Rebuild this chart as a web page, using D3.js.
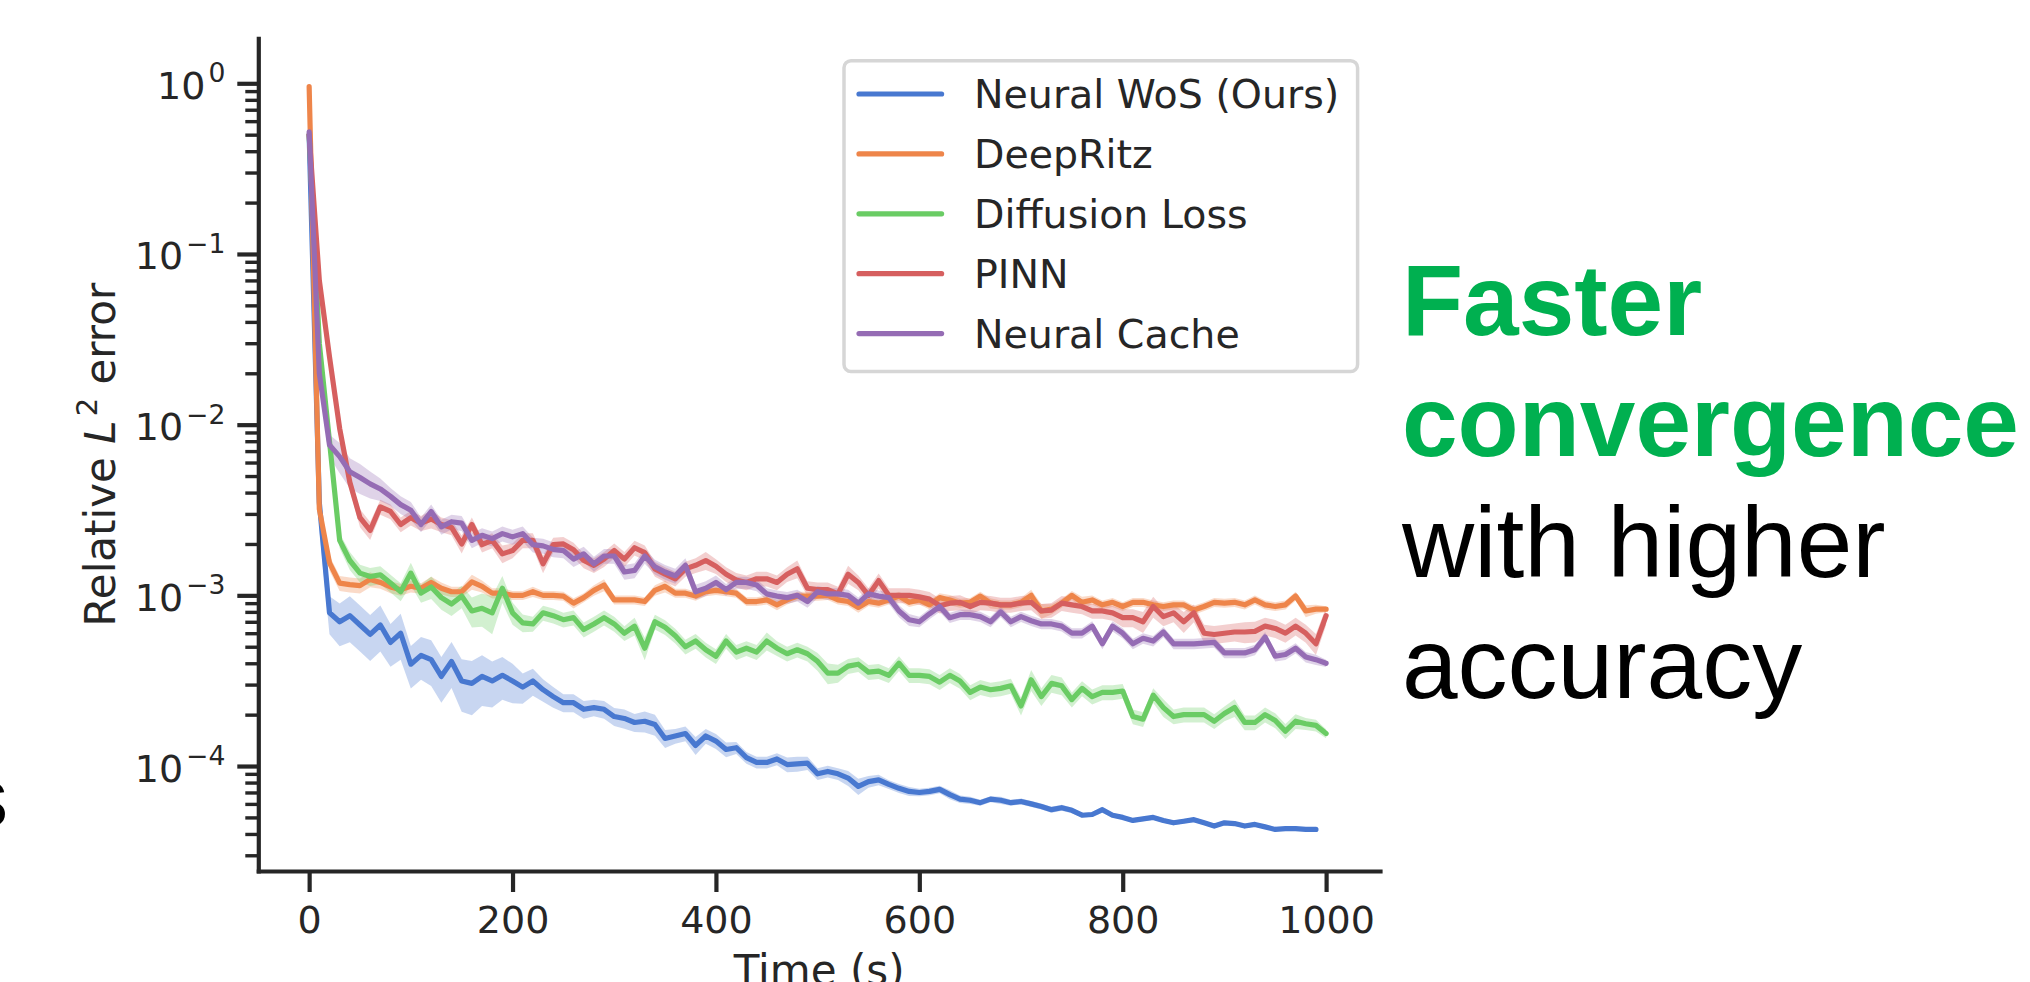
<!DOCTYPE html>
<html>
<head>
<meta charset="utf-8">
<script src="https://cdn.jsdelivr.net/npm/d3@7"></script>
<style>
  html, body { margin: 0; padding: 0; background: #fff; }
  svg { display: block; }
</style>
</head>
<body>
<div id="chart"></div>
<script>
//*************************1. Data

// sampling step of every run (seconds)
const timeStep = 10

const methods = ["Neural WoS (Ours)", "DeepRitz", "Diffusion Loss", "PINN", "Neural Cache"]
const methodColors = ["#4878d0", "#ee854a", "#6acc64", "#d65f5f", "#956cb4"]

// mean relative L2 error, one value every 10 s (Neural WoS stops at 990 s)
const neuralWosError = [
  0.5, 3.5e-3, 7.9e-4, 7.0e-4, 7.6e-4, 6.7e-4, 5.9e-4, 6.7e-4, 5.3e-4, 6.0e-4,
  3.95e-4, 4.45e-4, 4.2e-4, 3.35e-4, 4.1e-4, 3.15e-4, 3.05e-4, 3.35e-4, 3.15e-4, 3.4e-4,
  3.15e-4, 2.9e-4, 3.15e-4, 2.8e-4, 2.55e-4, 2.35e-4, 2.35e-4, 2.15e-4, 2.2e-4, 2.15e-4,
  1.95e-4, 1.9e-4, 1.8e-4, 1.83e-4, 1.75e-4, 1.45e-4, 1.5e-4, 1.55e-4, 1.32e-4, 1.5e-4,
  1.4e-4, 1.25e-4, 1.28e-4, 1.12e-4, 1.05e-4, 1.05e-4, 1.1e-4, 1.02e-4, 1.03e-4, 1.04e-4,
  9.0e-5, 9.3e-5, 9.0e-5, 8.5e-5, 7.6e-5, 8.1e-5, 8.3e-5, 7.8e-5, 7.4e-5, 7.1e-5,
  7.0e-5, 7.1e-5, 7.3e-5, 6.8e-5, 6.4e-5, 6.3e-5, 6.1e-5, 6.4e-5, 6.3e-5, 6.1e-5,
  6.2e-5, 6.0e-5, 5.8e-5, 5.55e-5, 5.7e-5, 5.5e-5, 5.15e-5, 5.2e-5, 5.55e-5, 5.15e-5,
  5.0e-5, 4.8e-5, 4.9e-5, 5.0e-5, 4.8e-5, 4.65e-5, 4.75e-5, 4.85e-5, 4.65e-5, 4.45e-5,
  4.65e-5, 4.6e-5, 4.45e-5, 4.55e-5, 4.4e-5, 4.25e-5, 4.3e-5, 4.3e-5, 4.25e-5, 4.25e-5
]
const deepRitzError = [
  0.955, 3.2e-3, 1.55e-3, 1.18e-3, 1.155e-3, 1.14e-3, 1.24e-3, 1.19e-3, 1.12e-3, 1.08e-3,
  1.13e-3, 1.1e-3, 1.19e-3, 1.1e-3, 1.05e-3, 1.05e-3, 1.2e-3, 1.13e-3, 1.03e-3, 1.03e-3,
  1.0e-3, 1.0e-3, 1.05e-3, 1.0e-3, 1.0e-3, 9.9e-4, 9.0e-4, 9.7e-4, 1.07e-3, 1.15e-3,
  9.4e-4, 9.4e-4, 9.4e-4, 9.2e-4, 1.07e-3, 1.13e-3, 1.03e-3, 1.03e-3, 9.9e-4, 1.05e-3,
  1.07e-3, 1.05e-3, 1.03e-3, 9.2e-4, 9.2e-4, 9.4e-4, 8.8e-4, 9.4e-4, 9.9e-4, 9.9e-4,
  9.9e-4, 1.0e-3, 9.4e-4, 9.2e-4, 8.5e-4, 9.2e-4, 9.0e-4, 9.4e-4, 9.9e-4, 9.1e-4,
  9.4e-4, 8.8e-4, 9.7e-4, 9.4e-4, 9.0e-4, 9.1e-4, 9.9e-4, 9.0e-4, 8.8e-4, 8.8e-4,
  9.1e-4, 1.0e-3, 8.1e-4, 8.3e-4, 9.0e-4, 1.0e-3, 9.1e-4, 9.4e-4, 8.8e-4, 9.1e-4,
  8.6e-4, 9.1e-4, 9.1e-4, 8.8e-4, 8.6e-4, 8.8e-4, 8.8e-4, 8.2e-4, 8.6e-4, 9.1e-4,
  9.0e-4, 9.1e-4, 8.8e-4, 9.4e-4, 8.8e-4, 8.6e-4, 8.8e-4, 9.9e-4, 8.1e-4, 8.3e-4,
  8.3e-4
]
const diffusionLossError = [
  0.5, 3.0e-2, 8.0e-3, 2.1e-3, 1.6e-3, 1.35e-3, 1.29e-3, 1.32e-3, 1.18e-3, 1.05e-3,
  1.35e-3, 1.03e-3, 1.12e-3, 9.7e-4, 8.9e-4, 9.9e-4, 8.1e-4, 8.4e-4, 7.9e-4, 1.1e-3,
  7.9e-4, 6.9e-4, 6.8e-4, 7.9e-4, 7.6e-4, 7.2e-4, 7.4e-4, 6.3e-4, 6.8e-4, 7.4e-4,
  6.8e-4, 6.0e-4, 6.6e-4, 4.9e-4, 7.0e-4, 6.5e-4, 5.8e-4, 5.0e-4, 5.4e-4, 4.8e-4,
  4.4e-4, 5.4e-4, 4.65e-4, 4.9e-4, 4.65e-4, 5.4e-4, 4.9e-4, 4.55e-4, 4.8e-4, 4.55e-4,
  4.1e-4, 3.5e-4, 3.5e-4, 3.85e-4, 3.95e-4, 3.55e-4, 3.6e-4, 3.4e-4, 4.0e-4, 3.4e-4,
  3.4e-4, 3.35e-4, 3.1e-4, 3.4e-4, 3.15e-4, 2.7e-4, 2.9e-4, 2.8e-4, 2.85e-4, 2.95e-4,
  2.25e-4, 3.2e-4, 2.55e-4, 3.05e-4, 2.95e-4, 2.45e-4, 2.85e-4, 2.55e-4, 2.7e-4, 2.7e-4,
  2.75e-4, 1.95e-4, 1.88e-4, 2.6e-4, 2.2e-4, 1.95e-4, 2.0e-4, 2.0e-4, 2.0e-4, 1.83e-4,
  2.03e-4, 2.2e-4, 1.8e-4, 1.8e-4, 2.0e-4, 1.85e-4, 1.6e-4, 1.83e-4, 1.77e-4, 1.73e-4,
  1.55e-4
]
const pinnError = [
  0.5, 7.0e-2, 2.5e-2, 9.5e-3, 4.6e-3, 2.85e-3, 2.4e-3, 3.3e-3, 3.1e-3, 2.6e-3,
  2.85e-3, 2.65e-3, 2.8e-3, 2.6e-3, 2.5e-3, 2.0e-3, 2.6e-3, 1.98e-3, 2.1e-3, 1.75e-3,
  1.83e-3, 2.1e-3, 2.1e-3, 1.53e-3, 1.98e-3, 2.0e-3, 1.85e-3, 1.6e-3, 1.5e-3, 1.63e-3,
  1.83e-3, 1.63e-3, 1.9e-3, 1.78e-3, 1.43e-3, 1.33e-3, 1.25e-3, 1.43e-3, 1.5e-3, 1.6e-3,
  1.48e-3, 1.33e-3, 1.23e-3, 1.19e-3, 1.25e-3, 1.25e-3, 1.19e-3, 1.33e-3, 1.43e-3, 1.1e-3,
  1.08e-3, 1.08e-3, 1.02e-3, 1.33e-3, 1.19e-3, 1.0e-3, 1.22e-3, 1.0e-3, 1.0e-3, 1.0e-3,
  9.8e-4, 9.5e-4, 8.7e-4, 9.0e-4, 9.1e-4, 8.6e-4, 9.1e-4, 9.0e-4, 8.8e-4, 8.8e-4,
  9.0e-4, 9.1e-4, 8.1e-4, 8.2e-4, 9.0e-4, 8.8e-4, 8.6e-4, 8.1e-4, 8.1e-4, 7.9e-4,
  7.4e-4, 7.4e-4, 7.0e-4, 8.6e-4, 7.5e-4, 7.9e-4, 7.0e-4, 7.9e-4, 6.0e-4, 5.9e-4,
  6.0e-4, 6.1e-4, 6.1e-4, 6.15e-4, 6.6e-4, 6.4e-4, 6.0e-4, 6.6e-4, 6.0e-4, 5.2e-4,
  7.6e-4
]
const neuralCacheError = [
  0.52, 2.0e-2, 7.6e-3, 6.5e-3, 5.3e-3, 4.9e-3, 4.5e-3, 4.2e-3, 3.8e-3, 3.4e-3,
  3.15e-3, 2.6e-3, 3.1e-3, 2.52e-3, 2.7e-3, 2.65e-3, 2.1e-3, 2.25e-3, 2.15e-3, 2.3e-3,
  2.2e-3, 2.3e-3, 1.98e-3, 1.95e-3, 1.86e-3, 1.83e-3, 1.63e-3, 1.75e-3, 1.53e-3, 1.7e-3,
  1.7e-3, 1.37e-3, 1.4e-3, 1.7e-3, 1.47e-3, 1.37e-3, 1.3e-3, 1.5e-3, 1.05e-3, 1.1e-3,
  1.19e-3, 1.08e-3, 1.19e-3, 1.19e-3, 1.15e-3, 1.02e-3, 9.9e-4, 9.7e-4, 1.0e-3, 9.2e-4,
  1.05e-3, 1.02e-3, 1.02e-3, 1.0e-3, 9.0e-4, 1.02e-3, 9.9e-4, 9.7e-4, 8.1e-4, 7.2e-4,
  7.0e-4, 7.8e-4, 8.6e-4, 7.4e-4, 7.7e-4, 7.7e-4, 7.5e-4, 7.0e-4, 8.0e-4, 7.0e-4,
  7.5e-4, 7.1e-4, 6.8e-4, 6.8e-4, 6.6e-4, 6.0e-4, 6.0e-4, 6.6e-4, 5.2e-4, 6.6e-4,
  6.0e-4, 5.2e-4, 5.6e-4, 5.4e-4, 6.1e-4, 5.2e-4, 5.2e-4, 5.2e-4, 5.25e-4, 5.3e-4,
  4.6e-4, 4.6e-4, 4.6e-4, 4.8e-4, 5.7e-4, 4.4e-4, 4.5e-4, 4.9e-4, 4.35e-4, 4.2e-4,
  4.0e-4
]

// half width of the confidence band, as a fraction of the mean
const neuralWosCI = [
  0, 0.3, 0.25, 0.28, 0.3, 0.3, 0.3, 0.3, 0.28, 0.3,
  0.28, 0.28, 0.3, 0.3, 0.3, 0.34, 0.35, 0.33, 0.3, 0.28,
  0.26, 0.2, 0.18, 0.15, 0.14, 0.12, 0.12, 0.12, 0.11, 0.12,
  0.12, 0.13, 0.12, 0.14, 0.14, 0.12, 0.1, 0.1, 0.12, 0.1,
  0.1, 0.1, 0.08, 0.08, 0.08, 0.08, 0.08, 0.1, 0.1, 0.09,
  0.08, 0.08, 0.08, 0.1, 0.11, 0.08, 0.07, 0.06, 0.06, 0.06,
  0.05, 0.05, 0.05, 0.06, 0.05, 0.05, 0.04, 0.04, 0.05, 0.04,
  0.04, 0.04, 0.04, 0.04, 0.04, 0.04, 0.03, 0.03, 0.04, 0.03,
  0.03, 0.03, 0.03, 0.03, 0.03, 0.03, 0.03, 0.03, 0.03, 0.03,
  0.03, 0.03, 0.03, 0.03, 0.02, 0.02, 0.02, 0.02, 0.02, 0.02
]
const deepRitzCI = [
  0, 0.1, 0.1, 0.1, 0.1, 0.1, 0.1, 0.08, 0.08, 0.08,
  0.08, 0.07, 0.08, 0.08, 0.07, 0.07, 0.1, 0.08, 0.07, 0.07,
  0.06, 0.06, 0.07, 0.06, 0.06, 0.06, 0.07, 0.06, 0.07, 0.08,
  0.06, 0.06, 0.06, 0.06, 0.07, 0.08, 0.06, 0.06, 0.06, 0.06,
  0.06, 0.06, 0.06, 0.06, 0.06, 0.06, 0.07, 0.06, 0.06, 0.06,
  0.06, 0.06, 0.06, 0.06, 0.07, 0.06, 0.06, 0.06, 0.06, 0.06,
  0.06, 0.06, 0.06, 0.07, 0.06, 0.06, 0.06, 0.07, 0.06, 0.06,
  0.06, 0.08, 0.1, 0.07, 0.06, 0.06, 0.08, 0.06, 0.06, 0.06,
  0.06, 0.06, 0.06, 0.06, 0.06, 0.06, 0.06, 0.06, 0.06, 0.06,
  0.06, 0.06, 0.06, 0.06, 0.06, 0.06, 0.06, 0.06, 0.08, 0.06,
  0.04
]
const diffusionLossCI = [
  0, 0.1, 0.1, 0.1, 0.12, 0.12, 0.12, 0.12, 0.12, 0.12,
  0.15, 0.12, 0.15, 0.15, 0.15, 0.15, 0.2, 0.22, 0.25, 0.18,
  0.15, 0.12, 0.1, 0.1, 0.1, 0.1, 0.1, 0.1, 0.1, 0.1,
  0.1, 0.1, 0.12, 0.15, 0.1, 0.1, 0.1, 0.1, 0.1, 0.1,
  0.1, 0.1, 0.1, 0.1, 0.1, 0.12, 0.1, 0.1, 0.1, 0.1,
  0.12, 0.14, 0.12, 0.1, 0.1, 0.1, 0.1, 0.1, 0.1, 0.1,
  0.1, 0.1, 0.1, 0.1, 0.1, 0.1, 0.1, 0.1, 0.1, 0.1,
  0.12, 0.14, 0.12, 0.12, 0.12, 0.1, 0.1, 0.1, 0.1, 0.1,
  0.1, 0.1, 0.1, 0.1, 0.12, 0.1, 0.1, 0.1, 0.1, 0.1,
  0.1, 0.12, 0.1, 0.1, 0.1, 0.1, 0.1, 0.1, 0.08, 0.08,
  0.06
]
const pinnCI = [
  0, 0.1, 0.1, 0.1, 0.1, 0.12, 0.12, 0.1, 0.1, 0.1,
  0.1, 0.1, 0.12, 0.1, 0.1, 0.12, 0.1, 0.1, 0.1, 0.12,
  0.1, 0.1, 0.1, 0.12, 0.1, 0.1, 0.1, 0.1, 0.1, 0.1,
  0.1, 0.1, 0.1, 0.1, 0.1, 0.1, 0.1, 0.1, 0.1, 0.12,
  0.1, 0.1, 0.1, 0.1, 0.1, 0.1, 0.1, 0.1, 0.12, 0.1,
  0.1, 0.1, 0.1, 0.12, 0.1, 0.1, 0.1, 0.1, 0.1, 0.1,
  0.1, 0.1, 0.1, 0.1, 0.1, 0.1, 0.1, 0.1, 0.1, 0.1,
  0.1, 0.1, 0.1, 0.1, 0.1, 0.1, 0.1, 0.1, 0.1, 0.1,
  0.12, 0.12, 0.14, 0.14, 0.12, 0.12, 0.14, 0.12, 0.12, 0.12,
  0.12, 0.12, 0.14, 0.14, 0.12, 0.12, 0.12, 0.12, 0.12, 0.14,
  0.12
]
const neuralCacheCI = [
  0, 0.15, 0.15, 0.2, 0.2, 0.2, 0.18, 0.15, 0.12, 0.12,
  0.12, 0.1, 0.1, 0.1, 0.1, 0.1, 0.1, 0.1, 0.1, 0.1,
  0.1, 0.1, 0.1, 0.1, 0.1, 0.1, 0.1, 0.1, 0.1, 0.1,
  0.1, 0.1, 0.1, 0.1, 0.1, 0.1, 0.1, 0.1, 0.1, 0.1,
  0.1, 0.08, 0.08, 0.08, 0.08, 0.08, 0.08, 0.08, 0.08, 0.08,
  0.08, 0.08, 0.08, 0.08, 0.08, 0.08, 0.08, 0.08, 0.08, 0.08,
  0.07, 0.07, 0.07, 0.07, 0.07, 0.07, 0.07, 0.07, 0.07, 0.07,
  0.07, 0.07, 0.07, 0.07, 0.07, 0.07, 0.07, 0.07, 0.07, 0.07,
  0.07, 0.07, 0.07, 0.07, 0.07, 0.07, 0.07, 0.07, 0.07, 0.07,
  0.07, 0.07, 0.07, 0.07, 0.07, 0.07, 0.07, 0.07, 0.07, 0.07,
  0.05
]

const xTickValues = [0, 200, 400, 600, 800, 1000]
const yTickValues = [1, 1e-1, 1e-2, 1e-3, 1e-4]
const yTickExponents = ["0", "\u22121", "\u22122", "\u22123", "\u22124"]

const sideNote = [
  { text: "Faster", bold: true },
  { text: "convergence", bold: true },
  { text: "with higher", bold: false },
  { text: "accuracy", bold: false }
]

//*************************2. Dimensions

const dims = {
  width: 2030,
  height: 982,
  left: 258.3,
  right: 1380,
  top: 38.3,
  bottom: 871
}
const axisColor = "#262626"
const tickFont = "'DejaVu Sans', sans-serif"

//*************************3. Wrapper

const svg = d3.select("#chart")
  .append("svg")
  .attr("width", dims.width)
  .attr("height", dims.height)

svg.append("rect")
  .attr("width", dims.width)
  .attr("height", dims.height)
  .attr("fill", "#ffffff")

//*************************4. Scales

const xScale = d3.scaleLinear()
  .domain([-50, 1053])
  .range([dims.left, dims.right])

const yScale = d3.scaleLog()
  .domain([Math.pow(10, -4.615), Math.pow(10, 0.2636)])
  .range([dims.bottom, dims.top])

//*************************5. Series

const errorSeries = [neuralWosError, deepRitzError, diffusionLossError, pinnError, neuralCacheError]
const ciSeries = [neuralWosCI, deepRitzCI, diffusionLossCI, pinnCI, neuralCacheCI]

const runs = methods.map((name, i) => ({
  name,
  color: methodColors[i],
  points: errorSeries[i].map((v, j) => ({
    t: j * timeStep,
    v,
    lo: v * (1 - ciSeries[i][j]),
    hi: v * (1 + ciSeries[i][j])
  }))
}))

const bandGenerator = d3.area()
  .x(d => xScale(d.t))
  .y0(d => yScale(d.lo))
  .y1(d => yScale(d.hi))

const lineGenerator = d3.line()
  .x(d => xScale(d.t))
  .y(d => yScale(d.v))

const plot = svg.append("g")

plot.selectAll(".band")
  .data(runs)
  .join("path")
  .attr("class", "band")
  .attr("d", d => bandGenerator(d.points))
  .attr("fill", d => d.color)
  .attr("fill-opacity", 0.3)
  .attr("stroke", "none")

plot.selectAll(".run")
  .data(runs)
  .join("path")
  .attr("class", "run")
  .attr("d", d => lineGenerator(d.points))
  .attr("fill", "none")
  .attr("stroke", d => d.color)
  .attr("stroke-width", 5.2)
  .attr("stroke-linejoin", "round")
  .attr("stroke-linecap", "round")

//*************************6. Axes

const xAxisGenerator = d3.axisBottom(xScale)
  .tickValues(xTickValues)
  .tickFormat(d3.format("d"))
  .tickSize(21)
  .tickSizeOuter(0)
  .tickPadding(14)

const xAxis = svg.append("g")
  .attr("transform", `translate(0,${dims.bottom})`)
  .call(xAxisGenerator)

const yMinorValues = []
for (let k = -5; k <= 0; k++) {
  for (let m = 2; m <= 9; m++) {
    const v = m * Math.pow(10, k)
    if (v > yScale.domain()[0] && v < yScale.domain()[1]) yMinorValues.push(v)
  }
}

const yMinorAxis = svg.append("g")
  .attr("transform", `translate(${dims.left},0)`)
  .call(d3.axisLeft(yScale).tickValues(yMinorValues).tickSize(13).tickFormat(""))
yMinorAxis.select(".domain").remove()
yMinorAxis.selectAll("line").attr("stroke-width", 3.4)

const yAxisGenerator = d3.axisLeft(yScale)
  .tickValues(yTickValues)
  .tickSize(21)
  .tickSizeOuter(0)
  .tickPadding(12)

const yAxis = svg.append("g")
  .attr("transform", `translate(${dims.left},0)`)
  .call(yAxisGenerator)

yAxis.selectAll(".tick text")
  .attr("dy", 15)
  .text("")
  .each(function (d, i) {
    const label = d3.select(this)
    label.append("tspan").text("10")
    label.append("tspan")
      .attr("dy", -16.6)
      .attr("dx", 3)
      .attr("font-size", 26.6)
      .text(yTickExponents[i])
  })

svg.selectAll(".domain")
  .attr("stroke", axisColor)
  .attr("stroke-width", 4.2)
  .attr("stroke-linecap", "square")
svg.selectAll(".tick line")
  .attr("stroke", axisColor)
xAxis.selectAll(".tick line").attr("stroke-width", 4.2)
yAxis.selectAll(".tick line").attr("stroke-width", 4.2)
svg.selectAll(".tick text")
  .attr("fill", axisColor)
  .attr("font-family", tickFont)
  .attr("font-size", 38)
svg.selectAll("g").filter(function () { return this.hasAttribute("font-size") })
  .attr("font-size", null)
  .attr("font-family", null)

//*************************7. Axis labels

svg.append("text")
  .attr("x", (dims.left + dims.right) / 2)
  .attr("y", 985)
  .attr("text-anchor", "middle")
  .attr("font-family", tickFont)
  .attr("font-size", 42)
  .attr("fill", axisColor)
  .text("Time (s)")

const yLabel = svg.append("text")
  .attr("transform", `translate(115,${(dims.top + dims.bottom) / 2}) rotate(-90)`)
  .attr("text-anchor", "middle")
  .attr("font-family", tickFont)
  .attr("font-size", 42)
  .attr("fill", axisColor)
yLabel.append("tspan").text("Relative ")
yLabel.append("tspan").attr("font-style", "italic").text("L")
yLabel.append("tspan").attr("dy", -18).attr("dx", 4).attr("font-size", 29).text("2")
yLabel.append("tspan").attr("dy", 18).text(" error")

//*************************8. Legend

const legend = svg.append("g")

legend.append("rect")
  .attr("x", 844)
  .attr("y", 60.7)
  .attr("width", 513.6)
  .attr("height", 310.9)
  .attr("rx", 7)
  .attr("fill", "#ffffff")
  .attr("stroke", "#d6d6d6")
  .attr("stroke-width", 3.5)

const legendItems = legend.selectAll(".item")
  .data(runs)
  .join("g")
  .attr("class", "item")
  .attr("transform", (d, i) => `translate(0,${94 + i * 59.9})`)

legendItems.append("line")
  .attr("x1", 859)
  .attr("x2", 941.6)
  .attr("stroke", d => d.color)
  .attr("stroke-width", 5.2)
  .attr("stroke-linecap", "round")

legendItems.append("text")
  .attr("x", 974)
  .attr("y", 14.4)
  .attr("font-family", tickFont)
  .attr("font-size", 39.5)
  .attr("fill", axisColor)
  .text(d => d.name)

//*************************9. Side note

svg.append("g")
  .selectAll("text")
  .data(sideNote)
  .join("text")
  .attr("x", 1402)
  .attr("y", (d, i) => 334.9 + i * 121)
  .attr("font-family", "'Liberation Sans', Arial, sans-serif")
  .attr("font-size", 100)
  .attr("font-weight", d => d.bold ? "bold" : "normal")
  .attr("fill", d => d.bold ? "#00b050" : "#000000")
  .text(d => d.text)

// edge of a letter from the neighbouring panel
svg.append("text")
  .attr("x", -34)
  .attr("y", 826)
  .attr("font-family", "'Liberation Sans', Arial, sans-serif")
  .attr("font-size", 84)
  .attr("fill", "#000000")
  .text("s")
</script>
</body>
</html>
